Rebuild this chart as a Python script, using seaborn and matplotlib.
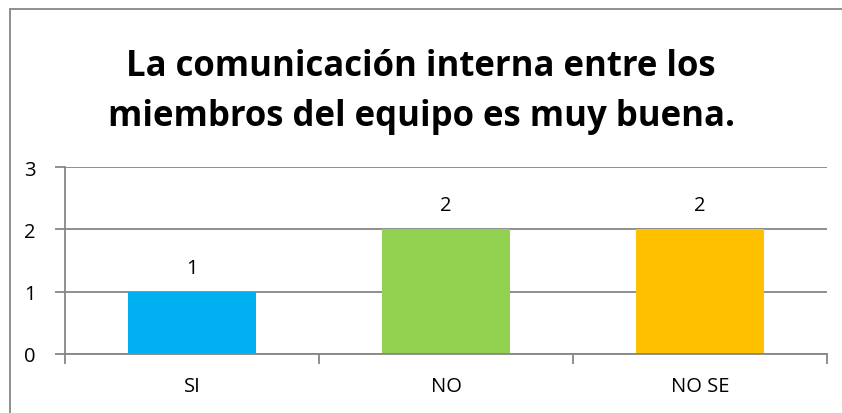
import matplotlib
matplotlib.use("Agg")
import matplotlib.pyplot as plt
import seaborn as sns
import pandas as pd

# datos del gráfico
categorias = ["SI", "NO", "NO SE"]
respuestas = [1, 2, 2]
colores = ["#00B0F0", "#92D050", "#FFC000"]
titulo = "La comunicación interna entre los\nmiembros del equipo es muy buena."
yticks = [0, 1, 2, 3]

sns.set_theme(style="white")
plt.rcParams['font.family'] = ['Open Sans', 'DejaVu Sans']

df = pd.DataFrame({"cat": categorias, "val": respuestas})

fig = plt.figure(figsize=(8.42, 4.14), dpi=100)
ax = fig.add_axes([65 / 842, 1 - 355 / 414, (827 - 65) / 842, (355 - 168) / 414])

sns.barplot(data=df, x="cat", y="val", hue="cat", palette=colores, legend=False,
            width=0.504, saturation=1, linewidth=0, edgecolor="none", ax=ax, zorder=3)

gris = "#868686"
ax.set_ylim(0, 3)
ax.set_xlim(-0.5, 2.5)
ax.set_yticks(yticks)
ax.yaxis.grid(True, color=gris, linewidth=1.3, zorder=0)
ax.set_axisbelow(True)
for s in ["top", "right"]:
    ax.spines[s].set_visible(False)
for s in ["left", "bottom"]:
    ax.spines[s].set_color(gris)
    ax.spines[s].set_linewidth(1.3)
ax.spines["bottom"].set_zorder(4)

ax.tick_params(axis="y", which="major", left=True, length=7, width=1.3, color=gris,
               labelsize=14.5, pad=14, labelcolor="black")
ax.tick_params(axis="x", which="major", bottom=False, labelsize=14.5, pad=10, labelcolor="black")
ax.set_xticks([-0.5, 0.5, 1.5, 2.5], minor=True)
ax.tick_params(axis="x", which="minor", bottom=True, length=7, width=1.3, color=gris)
ax.set_xlabel("")
ax.set_ylabel("")

for i, v in enumerate(respuestas):
    ax.annotate(str(v), (i, v), xytext=(0, 10), textcoords="offset points",
                ha="center", va="bottom", fontsize=14.5, color="black")

fig.text(0.5, 1 - 92 / 414, titulo, ha="center", va="center", fontsize=25,
         fontweight="bold", linespacing=1.5, color="black")

# marco del área del gráfico
fig.add_artist(plt.Line2D([10 / 842, 1], [1 - 10 / 414, 1 - 10 / 414], color=gris,
                          linewidth=1.3, transform=fig.transFigure))
fig.add_artist(plt.Line2D([10 / 842, 10 / 842], [0, 1 - 10 / 414], color=gris,
                          linewidth=1.3, transform=fig.transFigure))

fig.savefig("out.png", dpi=100)
